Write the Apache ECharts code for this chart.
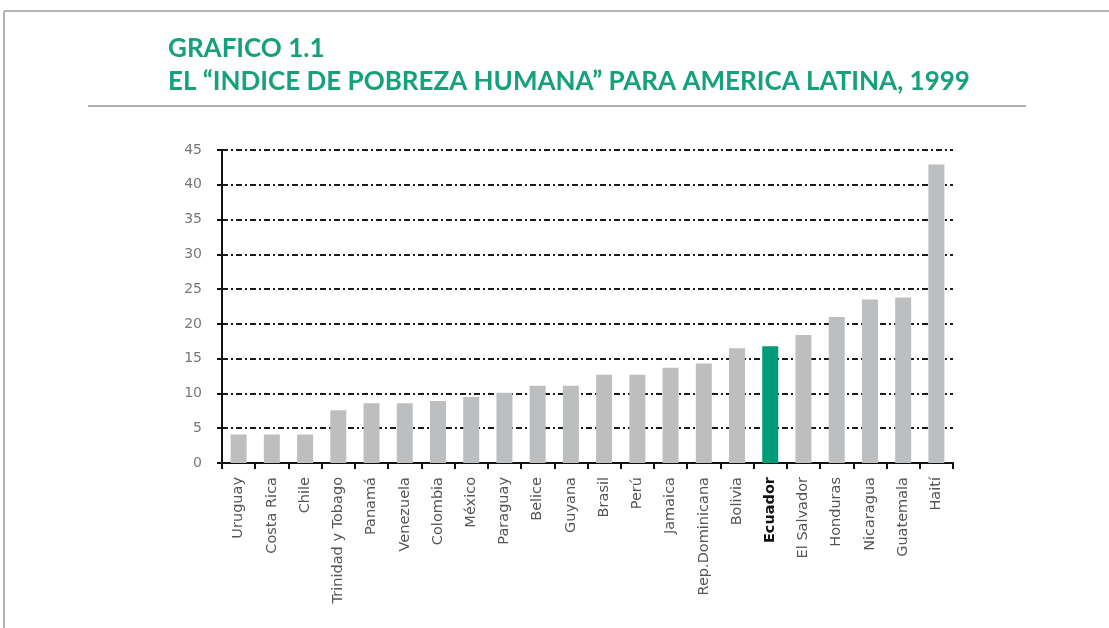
<!DOCTYPE html>
<html>
<head>
<meta charset="utf-8">
<script src="https://cdn.jsdelivr.net/npm/echarts@6/dist/echarts.min.js"></script>
<style>
html,body{margin:0;padding:0;background:#fff;}
#c{width:1109px;height:628px;}
</style>
</head>
<body>
<div id="c"></div>
<script>
const titleLine1 = "GRAFICO 1.1";
const titleLine2 = "EL \u201CINDICE DE POBREZA HUMANA\u201D PARA AMERICA LATINA, 1999";
const categories = ["Uruguay","Costa Rica","Chile","Trinidad y Tobago","Panamá","Venezuela","Colombia","México","Paraguay","Belice","Guyana","Brasil","Perú","Jamaica","Rep.Dominicana","Bolivia","Ecuador","El Salvador","Honduras","Nicaragua","Guatemala","Haití"];
const values = [4.1,4.1,4.1,7.6,8.6,8.6,8.9,9.5,10.1,11.1,11.1,12.7,12.7,13.7,14.3,16.5,16.8,18.4,21.0,23.5,23.8,42.9];
const highlighted = "Ecuador";
const yTicks = {min:0, max:45, interval:5};

const GREEN = "#009b77";
const GREY = "#bdbec0";

const chart = echarts.init(document.getElementById('c'), null, {renderer:'canvas'});
chart.setOption({
  backgroundColor:'#ffffff',
  animation:false,
  title:{
    text: titleLine1 + "\n" + titleLine2,
    left:163, top:27,
    textStyle:{color:'#16a07c', fontFamily:'Lato', fontWeight:'bold', fontSize:26, lineHeight:33}
  },
  graphic:[
    {type:'line', shape:{x1:4,y1:11,x2:1109,y2:11}, style:{stroke:'#b4b4b4', lineWidth:2}},
    {type:'line', shape:{x1:4,y1:11,x2:4,y2:628}, style:{stroke:'#b4b4b4', lineWidth:2}},
    {type:'line', shape:{x1:88,y1:106,x2:1026,y2:106}, style:{stroke:'#b0b0b0', lineWidth:2}}
  ],
  grid:{left:222, right:156, top:150, bottom:165, containLabel:false},
  xAxis:{
    type:'category',
    data:categories,
    boundaryGap:true,
    axisLine:{lineStyle:{color:'#111', width:2}},
    axisTick:{show:true, length:6, lineStyle:{color:'#111', width:2}},
    axisLabel:{
      rotate:90, margin:14, fontFamily:'DejaVu Sans', fontSize:14.5, color:'#555',
      formatter:(v)=> v===highlighted ? '{b|'+v+'}' : v,
      rich:{b:{fontWeight:'bold', color:'#111', fontFamily:'DejaVu Sans', fontSize:14.5}}
    },
    splitLine:{show:false}
  },
  yAxis:{
    type:'value',
    min:yTicks.min, max:yTicks.max, interval:yTicks.interval,
    axisLine:{show:true, lineStyle:{color:'#111', width:2}},
    axisTick:{show:true, length:5, lineStyle:{color:'#111', width:2}},
    axisLabel:{margin:20, fontFamily:'DejaVu Sans', fontSize:14, color:'#777'},
    splitLine:{show:true, lineStyle:{color:'#1a1a1a', width:2, type:[6,3,2,3]}}
  },
  series:[{
    type:'bar',
    data: values.map((v,i)=>({value:v, itemStyle:{color: categories[i]===highlighted ? GREEN : GREY}})),
    barWidth:16,
    z:3
  }]
});
</script>
</body>
</html>
